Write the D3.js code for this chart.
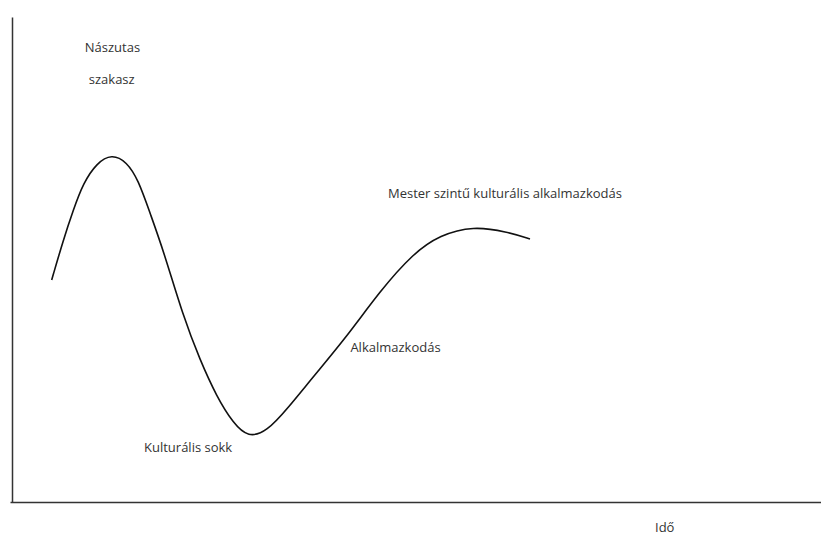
<!DOCTYPE html>
<html>
<head>
<meta charset="utf-8">
<script src="https://cdn.jsdelivr.net/npm/d3@7"></script>
<style>
  body { margin: 0; background: #fff; }
  text { font-family: "Open Sans", sans-serif; font-size: 13px; fill: #333; }
</style>
</head>
<body>
<div id="chart"></div>
<script>
// time (0-100) and adjustment level (0-100)
var time = [4.96, 6.41, 7.66, 8.91, 10.59, 12.46, 14.34, 15.79, 17.25, 18.91, 21.41, 23.5,
            25.59, 27.66, 29.54, 31.84, 34.5, 37.66, 41.84, 46, 50.16, 53.5, 57.66, 61.84, 64.75];
var level = [44.4, 52.4, 58.4, 63.8, 67.8, 69.6, 68.06, 64.4, 57.8, 50.4, 37.06, 28.4,
             21.06, 15.74, 12.9, 14.06, 18.8, 25.06, 33.06, 42.2, 49.74, 53.4, 55.2, 54.06, 52.6];

var labels = ["Nászutas", "szakasz", "Mester szintű kulturális alkalmazkodás", "Alkalmazkodás", "Kulturális sokk"];
var labelTime = [9.1, 9.6, 47, 42.3, 16.5];
var labelLevel = [90, 83.6, 60.8, 30, 10];
var xTitle = "Idő";

var width = 821, height = 535;

var svg = d3.select("#chart").append("svg")
  .attr("width", width)
  .attr("height", height);

var xScale = d3.scaleLinear().domain([0, 100]).range([12, 812]);
var yScale = d3.scaleLinear().domain([0, 100]).range([502, 2]);

var data = time.map((t, i) => ({t: t, v: level[i]}));

/* axes without ticks */
svg.append("g")
  .attr("transform", `translate(0, ${yScale(0)})`)
  .call(d3.axisBottom(d3.scaleLinear().range([10, 821])).tickValues([]).tickSizeOuter(0))
  .select(".domain")
  .attr("stroke", "#333")
  .attr("stroke-width", 1.5);

svg.append("g")
  .attr("transform", `translate(${xScale(0)}, 0)`)
  .call(d3.axisLeft(d3.scaleLinear().range([502, 17])).tickValues([]).tickSizeOuter(0))
  .select(".domain")
  .attr("stroke", "#333")
  .attr("stroke-width", 1.5);

/* the curve, smoothed */
var line = d3.line()
  .x(d => xScale(d.t))
  .y(d => yScale(d.v))
  .curve(d3.curveBasis);

svg.append("path")
  .datum(data)
  .attr("d", line)
  .attr("fill", "none")
  .attr("stroke", "#111")
  .attr("stroke-width", 1.6);

/* labels */
svg.selectAll(".lbl")
  .data(labels).enter()
  .append("text")
  .attr("class", "lbl")
  .attr("x", (d, i) => xScale(labelTime[i]))
  .attr("y", (d, i) => yScale(labelLevel[i]))
  .text(d => d);

svg.append("text")
  .attr("x", 655)
  .attr("y", 532)
  .text(xTitle);
</script>
</body>
</html>
